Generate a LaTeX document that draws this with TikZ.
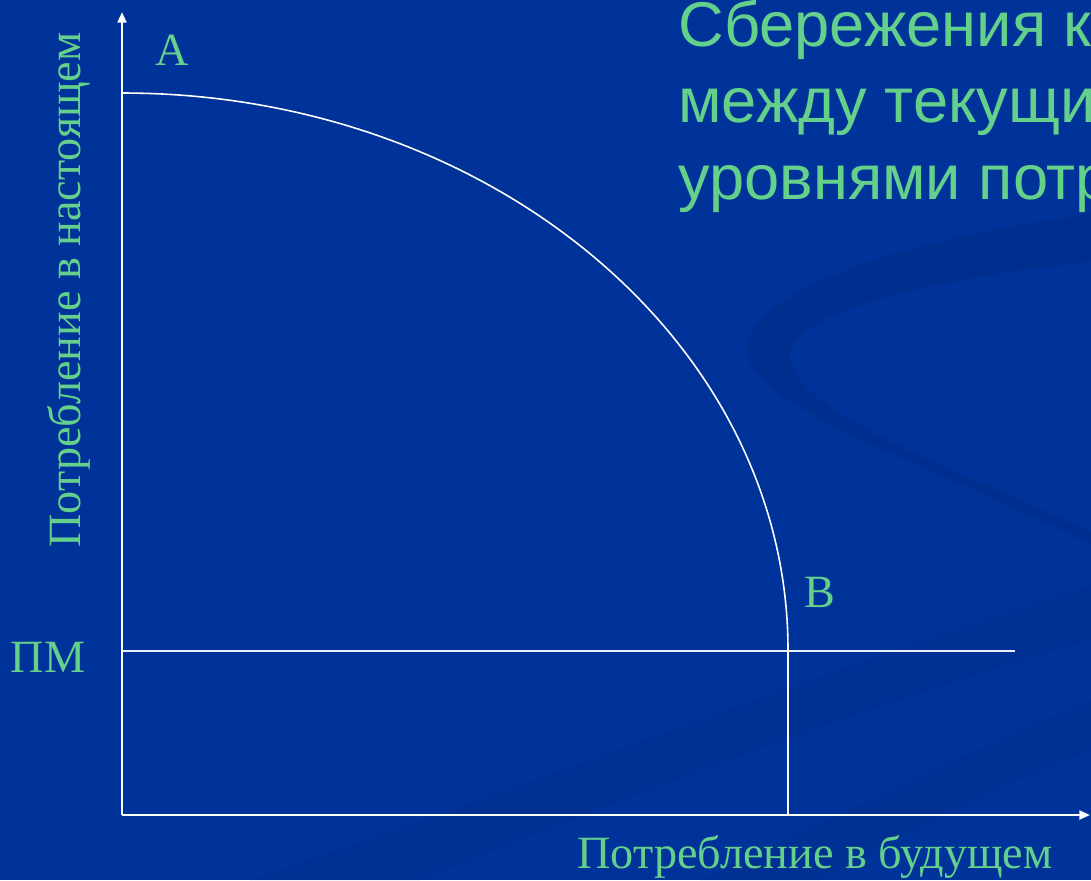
\documentclass[tikz,border=0pt]{standalone}
\usepackage{fontspec}
\setmainfont{Liberation Serif}
\newfontfamily\titlefont{Liberation Sans}
\usetikzlibrary{arrows.meta, positioning}

\definecolor{slideblue}{RGB}{0,51,153}
\definecolor{swooshblue}{RGB}{0,44,138}
\definecolor{labelgreen}{RGB}{100,208,140}

\begin{document}
\begin{tikzpicture}[
        x=0.02cm, y=-0.02cm,
        axis/.style={draw=white, line width=1.3pt, -{Triangle[length=6pt, width=5pt]}},
        frontier/.style={draw=white, line width=0.9pt},
        level/.style={draw=white!92!slideblue, line width=1.1pt},
        lbl/.style={text=labelgreen, font=\fontsize{26.3}{31}\selectfont, inner sep=0pt},
        titleline/.style={text=labelgreen, anchor=base west, inner sep=0pt,
            font=\titlefont\fontsize{36}{42}\selectfont},
    ]
        % Background
        \fill[slideblue] (0,0) rectangle (1091,880);
        \useasboundingbox (0,0) rectangle (1091,880);
        \clip (0,0) rectangle (1091,880);

        % Decorative swooshes
        \fill[swooshblue, opacity=0.7] (1091,214) .. controls (900,240) and (738,292) .. (748,356)
            .. controls (760,412) and (950,472) .. (1091,545) -- (1091,532)
            .. controls (960,470) and (790,412) .. (790,356)
            .. controls (790,314) and (920,280) .. (1091,262) -- cycle;
        \fill[swooshblue, opacity=0.4] (250,880) .. controls (600,760) and (850,660) .. (1091,585)
            -- (1091,640) .. controls (850,710) and (620,800) .. (420,880) -- cycle;
        \fill[swooshblue, opacity=0.4] (700,880) .. controls (850,810) and (980,745) .. (1091,700)
            -- (1091,750) .. controls (990,790) and (900,835) .. (820,880) -- cycle;

        % Title
        \node[titleline] (title1) at (678,46) {Сбережения к};
        \node[titleline] (title2) at (678,122) {между текущи};
        \node[titleline] (title3) at (678,199) {уровнями потр};

        % Points
        \coordinate (O) at (122,815);
        \coordinate (ytip) at (122,12);
        \coordinate (xtip) at (1090,815);
        \coordinate (top) at (122,93);
        \coordinate (bpt) at (788,650);
        \coordinate (bfoot) at (788,815);
        \coordinate (pmleft) at (122,651);
        \coordinate (pmright) at (1015,651);

        % Axes
        \draw[axis] (O) -- (ytip);
        \draw[axis] (O) -- (xtip);

        % Frontier and minimum level
        \draw[frontier] (top) arc[start angle=-90, end angle=0, x radius=666, y radius=557];
        \draw[frontier] (bpt) -- (bfoot);
        \draw[level] (pmleft) -- (pmright);

        % Labels
        \node[lbl, anchor=base] (labA) at (172,65) {A};
        \node[lbl, anchor=base] (labB) at (820,607) {B};
        \node[lbl, anchor=base] (labPM) at (48,672) {ПМ};
        \node[lbl, anchor=base] (xlabel) at (815,868) {Потребление в будущем};
        \node[lbl, anchor=base, rotate=90] (ylabel) at (80,290) {Потребление в настоящем};
    \end{tikzpicture}
\end{document}
